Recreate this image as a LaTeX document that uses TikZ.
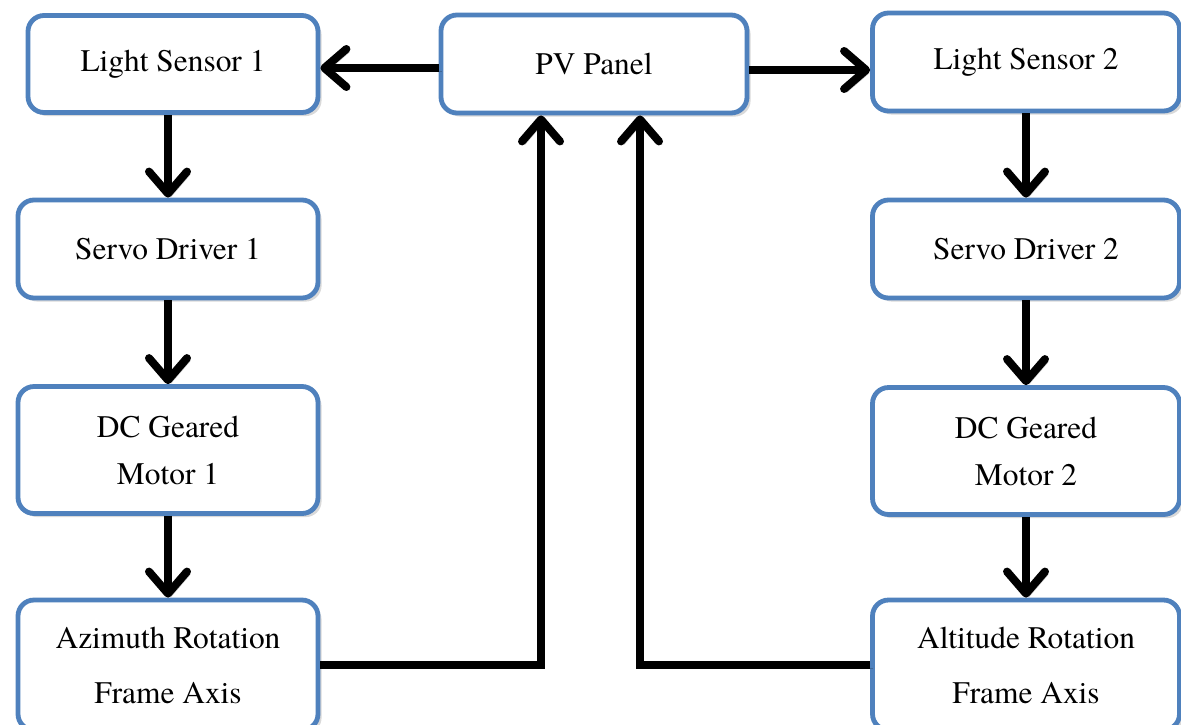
\documentclass[tikz,border=0pt]{standalone}
\usepackage{fontspec}
\setmainfont{texgyretermes-regular.otf}
\usetikzlibrary{arrows.meta,shadows}
\definecolor{boxblue}{RGB}{79,129,189}

\tikzset{
    block/.style={draw=boxblue, line width=2.4pt, rounded corners=8pt, fill=white,
        drop shadow={shadow xshift=1.8pt, shadow yshift=-1.8pt, opacity=0.3},
        align=center, inner sep=0pt, font=\fontsize{15.7}{23.5}\selectfont},
    flow/.style={line width=4pt, -{Straight Barb[length=11pt,width=19pt,round]},
        preaction={draw=black, opacity=0.2, transform canvas={shift={(1.5pt,-1.5pt)}}}}
}

\begin{document}
\begin{tikzpicture}[x=0.5pt, y=-0.5pt]
    \def\colL{168} % x of the left column
    \def\colM{594} % x of the PV panel
    \def\colR{1026} % x of the right column
    \def\wL{300} % width of the left boxes
    \def\wR{307} % width of the right boxes

    \useasboundingbox (0,0) rectangle (1181,724);

    % top row
    \node[block, minimum width=145pt, minimum height=48.5pt] (ls1) at (173,64) {Light Sensor 1};
    \node[block, minimum width=153pt, minimum height=49pt] (pv) at (\colM,64) {PV Panel};
    \node[block, minimum width=\wR*0.5pt, minimum height=49pt] (ls2) at (\colR,62) {Light Sensor 2};

    % left chain
    \node[block, minimum width=\wL*0.5pt, minimum height=49pt] (sd1) at (\colL,249) {Servo Driver 1};
    \node[block, minimum width=\wL*0.5pt, minimum height=63.5pt] (dcm1) at (\colL,450) {DC Geared\\Motor 1};
    \node[block, minimum width=\wL*0.5pt, minimum height=65pt] (az) at (\colL,665) {Azimuth Rotation\\[4pt]Frame Axis};

    % right chain
    \node[block, minimum width=\wR*0.5pt, minimum height=49pt] (sd2) at (\colR,249) {Servo Driver 2};
    \node[block, minimum width=\wR*0.5pt, minimum height=63.5pt] (dcm2) at (\colR,451) {DC Geared\\Motor 2};
    \node[block, minimum width=\wR*0.5pt, minimum height=65pt] (alt) at (\colR,665) {Altitude Rotation\\[4pt]Frame Axis};

    \draw[flow] (pv.west) ++(0,4) -- (ls1.east |- 0,68);
    \draw[flow] (pv.east) ++(0,6) -- (ls2.west |- 0,70);

    \draw[flow] (sd1.north |- ls1.south) -- (sd1);
    \draw[flow] (sd1) -- (dcm1);
    \draw[flow] (dcm1) -- (az);
    \draw[flow] (ls2) -- (sd2);
    \draw[flow] (sd2) -- (dcm2);
    \draw[flow] (dcm2) -- (alt);

    \draw[flow] (az.east) -| ([xshift=-26.5pt]pv.south);
    \draw[flow] (alt.west) -| ([xshift=23pt]pv.south);

\end{tikzpicture}
\end{document}
